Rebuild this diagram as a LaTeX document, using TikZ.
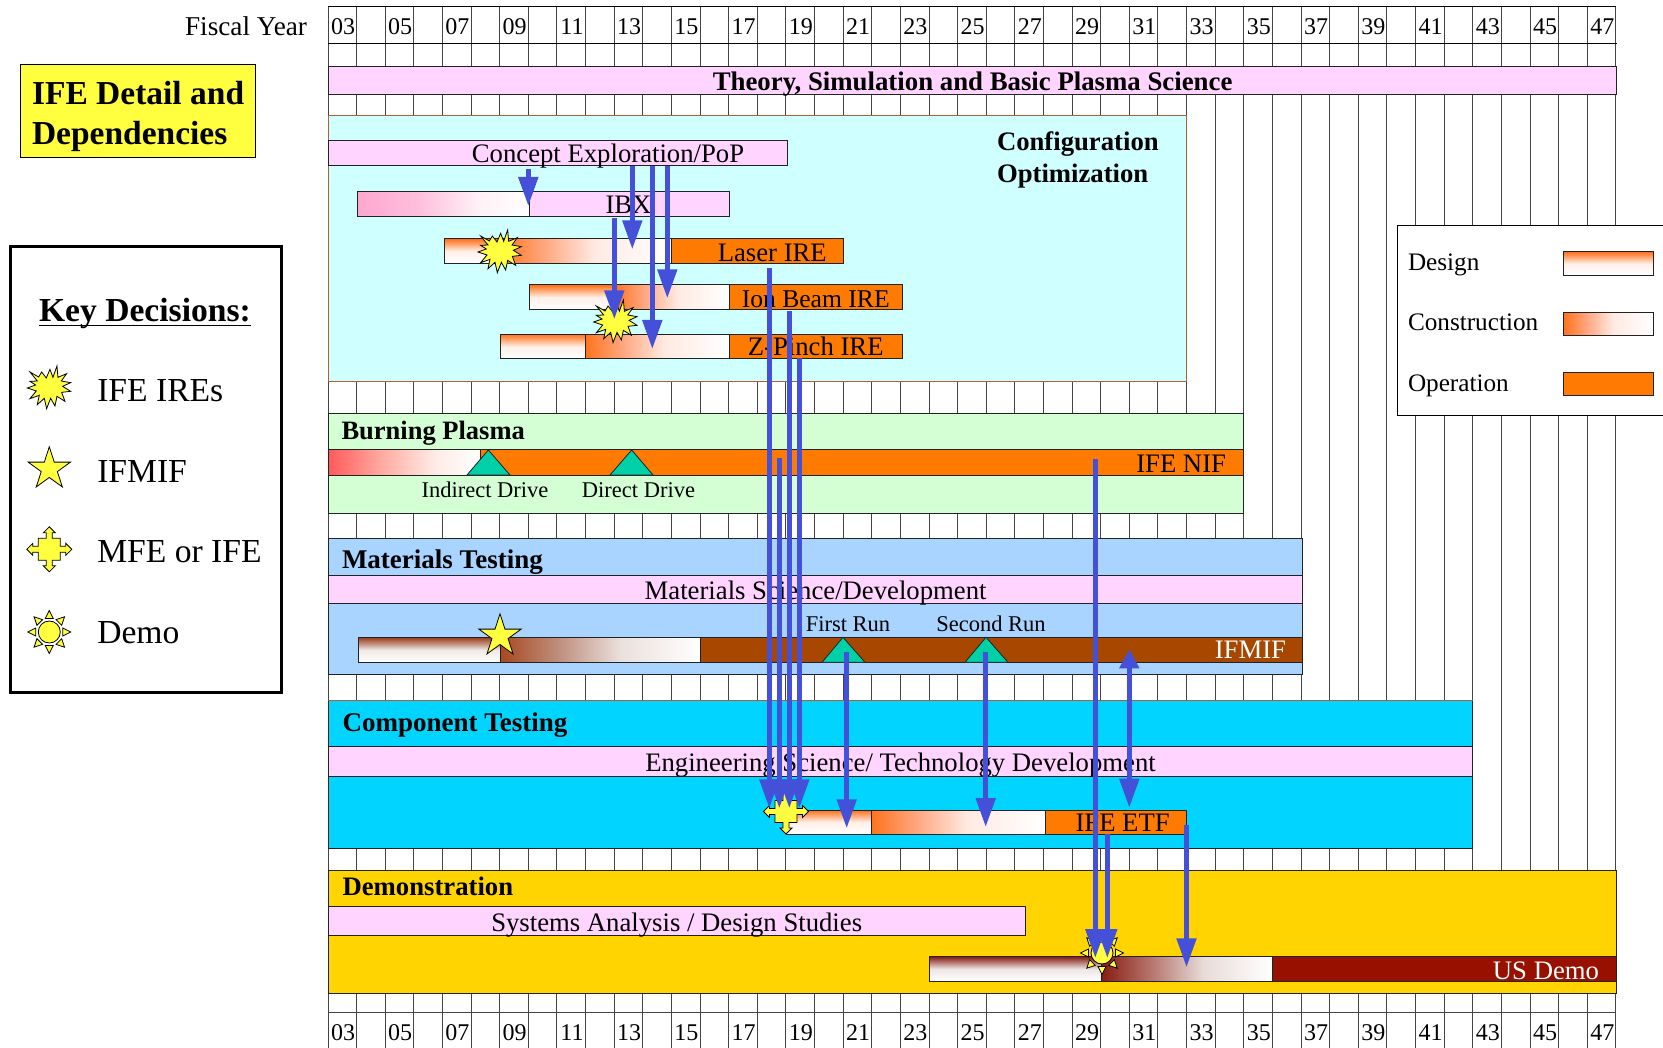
\documentclass[tikz,border=0pt]{standalone}
\usepackage{fontspec}
\setmainfont{Liberation Serif}
\usetikzlibrary{arrows.meta,shapes.geometric}
\definecolor{PinkBar}{HTML}{FFD4FF}
\definecolor{CfgBg}{HTML}{D0FFFF}
\definecolor{BurnBg}{HTML}{D4FFD4}
\definecolor{MatBg}{HTML}{A8D4FF}
\definecolor{CompBg}{HTML}{00D4FF}
\definecolor{DemoBg}{HTML}{FFD400}
\definecolor{Sym}{HTML}{FFFF40}
\definecolor{Teal}{HTML}{00D0A8}
\definecolor{Flow}{HTML}{4450D8}
\definecolor{OpO}{HTML}{FF7A00}
\definecolor{OpB}{HTML}{A84800}
\definecolor{OpR}{HTML}{981000}
\definecolor{GridC}{HTML}{444444}
\definecolor{EdgeC}{HTML}{222222}
\definecolor{CfgEdge}{HTML}{B06030}
\definecolor{oa}{HTML}{FF701C}\definecolor{ob}{HTML}{FFB080}\definecolor{oc}{HTML}{FFF0E8}
\definecolor{pa}{HTML}{FF741E}\definecolor{pb}{HTML}{FFA57C}\definecolor{pc}{HTML}{FFEAE2}
\definecolor{ba}{HTML}{9C3C18}\definecolor{bb}{HTML}{C09080}\definecolor{bc}{HTML}{F0E8E4}
\definecolor{bd}{HTML}{A84820}\definecolor{be}{HTML}{C09080}\definecolor{bf}{HTML}{EAE0DC}
\definecolor{ra}{HTML}{881C10}\definecolor{rb}{HTML}{B8827C}\definecolor{rc}{HTML}{EEE4E4}
\definecolor{rd}{HTML}{881C10}\definecolor{re}{HTML}{B87870}\definecolor{rf}{HTML}{E8DCDA}
\definecolor{ia}{HTML}{FFA6CF}\definecolor{ib}{HTML}{FFBEDC}\definecolor{ic}{HTML}{FFF0F6}
\definecolor{ua}{HTML}{FF5A5A}\definecolor{ub}{HTML}{FFAAA0}\definecolor{uc}{HTML}{FFEBE6}
% the path's box maps to 25bp..75bp of a shading
\pgfdeclareverticalshading{desO}{100bp}{color(0bp)=(white);color(25bp)=(white);color(50bp)=(oc);color(62.5bp)=(ob);color(75bp)=(oa);color(100bp)=(oa)}
\pgfdeclarehorizontalshading{conO}{100bp}{color(0bp)=(pa);color(25bp)=(pa);color(37.5bp)=(pb);color(52.5bp)=(pc);color(75bp)=(white);color(100bp)=(white)}
\pgfdeclareverticalshading{desB}{100bp}{color(0bp)=(white);color(25bp)=(white);color(50bp)=(bc);color(62.5bp)=(bb);color(75bp)=(ba);color(100bp)=(ba)}
\pgfdeclarehorizontalshading{conB}{100bp}{color(0bp)=(bd);color(25bp)=(bd);color(40bp)=(be);color(55bp)=(bf);color(75bp)=(white);color(100bp)=(white)}
\pgfdeclareverticalshading{desR}{100bp}{color(0bp)=(white);color(25bp)=(white);color(50bp)=(rc);color(62.5bp)=(rb);color(75bp)=(ra);color(100bp)=(ra)}
\pgfdeclarehorizontalshading{conR}{100bp}{color(0bp)=(rd);color(25bp)=(rd);color(40bp)=(re);color(55bp)=(rf);color(75bp)=(white);color(100bp)=(white)}
\pgfdeclarehorizontalshading{ibxP}{100bp}{color(0bp)=(ia);color(25bp)=(ia);color(42.5bp)=(ib);color(60bp)=(ic);color(75bp)=(white);color(100bp)=(white)}
\pgfdeclarehorizontalshading{burnR}{100bp}{color(0bp)=(ua);color(25bp)=(ua);color(42.5bp)=(ub);color(60bp)=(uc);color(75bp)=(white);color(100bp)=(white)}
\newcommand{\fs}[1]{\fontsize{#1pt}{#1pt}\selectfont}
\tikzset{
  band/.style={draw=EdgeC,line width=.9pt},
  pinkband/.style={band,fill=PinkBar},
  barbase/.style={draw=EdgeC,line width=1pt},
  desOb/.style={barbase,shade,shading=desO},
  conOb/.style={barbase,shade,shading=conO},
  opOb/.style={barbase,fill=OpO},
  desBb/.style={barbase,shade,shading=desB},
  conBb/.style={barbase,shade,shading=conB},
  opBb/.style={barbase,fill=OpB},
  desRb/.style={barbase,shade,shading=desR},
  conRb/.style={barbase,shade,shading=conR},
  opRb/.style={barbase,fill=OpR},
  teal/.style={draw=EdgeC,line width=.8pt,fill=Teal},
  symb/.style={draw=black,line width=.8pt,fill=Sym},
  txt/.style={inner sep=0pt,outer sep=0pt},
  yr/.style={txt,anchor=base,font=\fs{24}},
  lab/.style={txt,anchor=base,font=\fs{26.7}},
  labr/.style={txt,anchor=base east,font=\fs{26.7}},
  sect/.style={txt,anchor=base west,font=\fs{26.7}\bfseries},
  small/.style={txt,anchor=base,font=\fs{22.5}},
  keyt/.style={txt,anchor=base west,font=\fs{33.6}},
  leg/.style={txt,anchor=base west,font=\fs{25.2}},
  flowline/.style={line width=5pt,draw=Flow,-{Triangle[length=29pt,width=19pt]},fill=Flow},
  flowboth/.style={line width=5pt,draw=Flow,{Triangle[length=19pt,width=19pt]}-{Triangle[length=29pt,width=19pt]},fill=Flow},
  fivestar/.style={star,star points=5,star point ratio=2.618,minimum size=44.4pt,inner sep=0pt,symb},
  burst/.pic={\draw[symb,x=.3333pt,y=-.3333pt] (-58,-48)--(-32,-33)--(-23,-48)--(-9,-30)--(2,-56)--(11,-32)--(23,-66)--(26,-32)--(52,-43)--(36,-21)--(64,-16)--(40,-5)--(64,10)--(37,13)--(47,40)--(23,25)--(17,54)--(4,31)--(-8,62)--(-15,31)--(-36,50)--(-30,22)--(-58,32)--(-39,9)--(-66,0)--(-41,-9)--(-58,-20)--(-36,-21)--cycle;},
  crossarrow/.pic={\draw[symb] (-11,-11)--(-3,-11)--(-3,-16.5)--(-6,-16.5)--(0,-22.5)--(6,-16.5)--(3,-16.5)--(3,-11)--(11,-11)--(11,-3)--(16.5,-3)--(16.5,-6)--(22.5,0)--(16.5,6)--(16.5,3)--(11,3)--(11,11)--(3,11)--(3,16.5)--(6,16.5)--(0,22.5)--(-6,16.5)--(-3,16.5)--(-3,11)--(-11,11)--(-11,3)--(-16.5,3)--(-16.5,6)--(-22.5,0)--(-16.5,-6)--(-16.5,-3)--(-11,-3)--cycle;},
  sunburst/.pic={\draw[symb] (0,0) circle (11pt);
    \foreach \a in {0,45,...,315}{\draw[symb,rotate=\a] (13.5,-4)--(21.5,0)--(13.5,4)--cycle;}},
}
\begin{document}
\begin{tikzpicture}[x=1pt,y=-1pt,every node/.style={text=black}]
\useasboundingbox (0,0) rectangle (1663,1048);
\fill[white] (0,0) rectangle (1663,1048);
% grid
\foreach \i in {0,...,45}{\draw[GridC,line width=1pt] ({328+28.62*\i},6.3)--({328+28.62*\i},1048);}
\draw[black,line width=1pt] (328,6.3)--(1616,6.3);
\draw[black,line width=1pt] (328,43.3)--(1617,43.3);
\draw[GridC,line width=1pt] (328,1012.7)--(1616,1012.7);
\foreach \i/\y in {0/03,2/05,4/07,6/09,8/11,10/13,12/15,14/17,16/19,18/21,20/23,22/25,24/27,26/29,28/31,30/33,32/35,34/37,36/39,38/41,40/43,42/45,44/47}{
  \node[yr] (top\y) at ({343+28.62*\i},34.3) {\y};
  \node[yr] (bot\y) at ({343+28.62*\i},1040) {\y};
}
\node[txt,anchor=base east,font=\fs{27.2}] (fy) at (307,35.3) {Fiscal Year};
% title
\draw[black,line width=1pt,fill=Sym] (20.7,65) rectangle (255.7,157.3);
\node[txt,anchor=base west,font=\fs{33.5}\bfseries] (title1) at (32,104.5) {IFE Detail and};
\node[txt,anchor=base west,font=\fs{33.5}\bfseries] (title2) at (32,145) {Dependencies};
% key decisions
\draw[black,line width=3pt,fill=white] (10,247) rectangle (281.5,692.5);
\node[txt,anchor=base west,font=\fs{33.6}\bfseries] (kd) at (39,321.7) {\rlap{\raisebox{-4pt}{\rule{212pt}{1pt}}}Key Decisions:};
\pic (k1) at (49.3,388) {burst};
\node[fivestar] (k2) at (49.3,469) {};
\pic (k3) at (49.3,549.3) {crossarrow};
\pic (k4) at (49.3,632) {sunburst};
\node[keyt] (kl1) at (97.3,401.7) {IFE IREs};
\node[keyt] (kl2) at (97.3,482.3) {IFMIF};
\node[keyt] (kl3) at (97.3,562.5) {MFE or IFE};
\node[keyt] (kl4) at (97.3,643.2) {Demo};
% theory
\path[pinkband] (328,66.7) rectangle (1616,94.7);
\node[lab,font=\fs{26.8}\bfseries] (theory) at (972.6,91) {Theory, Simulation and Basic Plasma Science};
% configuration
\draw[draw=CfgEdge,line width=1pt,fill=CfgBg] (328,116) rectangle (1186,381.3);
\node[sect] (cfg1) at (997,150.5) {Configuration};
\node[sect] (cfg2) at (997,182.5) {Optimization};
\path[pinkband] (328,140.3) rectangle (787,165);
\node[lab] (cep) at (608,162.8) {Concept Exploration/PoP};
\path[barbase,shade,shading=ibxP] (357,191.3) rectangle (529,216.3);
\path[barbase,fill=PinkBar] (529,191.3) rectangle (729,216.3);
\node[lab] (ibx) at (628.5,214) {IBX};
\path[desOb] (444.5,239) rectangle (500,263.3);
\path[conOb] (500,239) rectangle (671.5,263.3);
\path[opOb] (671.5,239) rectangle (843.5,263.3);
\node[lab] (laser) at (772.3,261.7) {Laser IRE};
\path[desOb] (529,285) rectangle (614,309.3);
\path[conOb] (614,285) rectangle (729,309.3);
\path[opOb] (729,285) rectangle (902.5,309.3);
\node[lab,font=\fs{25.6}] (ion) at (815.7,308) {Ion Beam IRE};
\path[desOb] (500,334.3) rectangle (585.7,359);
\path[conOb] (585.7,334.3) rectangle (729,359);
\path[opOb] (729,334.3) rectangle (902.5,359);
\node[lab] (zp) at (815.7,356) {Z-Pinch IRE};
\pic (s1) at (500,252) {burst};
\pic (s2) at (615.7,322) {burst};
% burning plasma
\path[band,fill=BurnBg] (328,413.3) rectangle (1243.5,513.5);
\node[sect,font=\fs{26.5}\bfseries] (bp) at (341.5,439.8) {Burning Plasma};
\path[barbase,fill=OpO] (480,450) rectangle (1243.5,475);
\path[barbase,shade,shading=burnR] (328,450) rectangle (480,475);
\draw[teal] (467,475)--(488.3,450)--(510,475)--cycle;
\draw[teal] (610,475)--(631.7,450)--(653,475)--cycle;
\node[labr] (nif) at (1226,472) {IFE NIF};
\node[small] (ind) at (485,497.5) {Indirect Drive};
\node[small] (dir) at (638.5,497.5) {Direct Drive};
% materials
\path[band,fill=MatBg] (328,538.3) rectangle (1302.5,674);
\node[sect,font=\fs{27}\bfseries] (mt) at (342,568.2) {Materials Testing};
\path[pinkband] (328,575.7) rectangle (1302.5,603.3);
\node[lab] (msd) at (815.6,599) {Materials Science/Development};
\path[desBb] (358.3,637.3) rectangle (500,662.3);
\path[conBb] (500,637.3) rectangle (700.3,662.3);
\path[opBb] (700.3,637.3) rectangle (1302.5,662.3);
\draw[teal] (822,662.3)--(843,637.3)--(865,662.3)--cycle;
\draw[teal] (965,662.3)--(986,637.3)--(1008,662.3)--cycle;
\node[small] (fr) at (848,631) {First Run};
\node[small] (sr) at (991,631) {Second Run};
\node[labr,text=white] (ifmif) at (1286,658.5) {IFMIF};
\node[fivestar] (ms) at (500,636) {};
% component
\path[band,fill=CompBg] (328,700.5) rectangle (1472.6,848.5);
\draw[CfgEdge,line width=1pt] (328,700.5)--(1472.6,700.5);
\node[sect,font=\fs{27}\bfseries] (ct) at (342.6,731) {Component Testing};
\path[pinkband] (328,746) rectangle (1472.6,776);
\node[lab] (est) at (900.5,771.7) {Engineering Science/ Technology Development};
\path[desOb] (786.7,810) rectangle (871.7,834.3);
\path[conOb] (871.7,810) rectangle (1045.3,834.3);
\path[opOb] (1045.3,810) rectangle (1186.7,834.3);
\node[lab] (etf) at (1122.6,831.7) {IFE ETF};
\pic (mfe) at (786,811.5) {crossarrow};
% demonstration
\path[band,fill=DemoBg] (328,870.7) rectangle (1616,993.3);
\node[sect] (dm) at (342.6,895) {Demonstration};
\path[pinkband] (328,906.7) rectangle (1025,935);
\node[lab] (sys) at (676.7,931) {Systems Analysis / Design Studies};
\path[desRb] (929.3,956.7) rectangle (1101.3,981);
\path[conRb] (1101.3,956.7) rectangle (1272,981);
\path[opRb] (1272,956.7) rectangle (1616,981);
\node[labr,text=white] (usd) at (1599,979.5) {US Demo};
\pic (dsun) at (1102,953) {sunburst};
% schedule legend
\draw[black,line width=1pt,fill=white] (1397.3,226) rectangle (1675,415.7);
\node[leg] (lg1) at (1408,270.5) {Design};
\node[leg] (lg2) at (1408,331) {Construction};
\node[leg] (lg3) at (1408,391.7) {Operation};
\path[desOb] (1563.7,252) rectangle (1653.7,275.3);
\path[conOb] (1563.7,312.7) rectangle (1653.7,335.3);
\path[opOb] (1563.7,373) rectangle (1653.7,396);
% dependency arrows
\foreach \n/\x/\ya/\yb in {a1/528.3/169.3/206, a2/632.3/165.7/249.3, a3/652.3/165.7/349, a4/667.3/165.7/298.3, a5/614.3/218.3/319.3,
  a6/769.3/268.3/808.3, a7/779.3/458.3/808.3, a8/789.3/311/808.3, a9/799.3/358.3/808.3,
  a10/846.7/652/828.3, a11/985.7/652/827, a12/1095.3/459/958, a13/1107.3/834.3/958, a14/1186.5/825/967.3}{
  \coordinate (\n s) at (\x,\ya);
  \coordinate (\n e) at (\x,\yb);
  \draw[flowline] (\n s)--(\n e);
}
\coordinate (a15s) at (1129.3,649.3);
\coordinate (a15e) at (1129.3,807.7);
\draw[flowboth] (a15s)--(a15e);
\end{tikzpicture}
\end{document}
